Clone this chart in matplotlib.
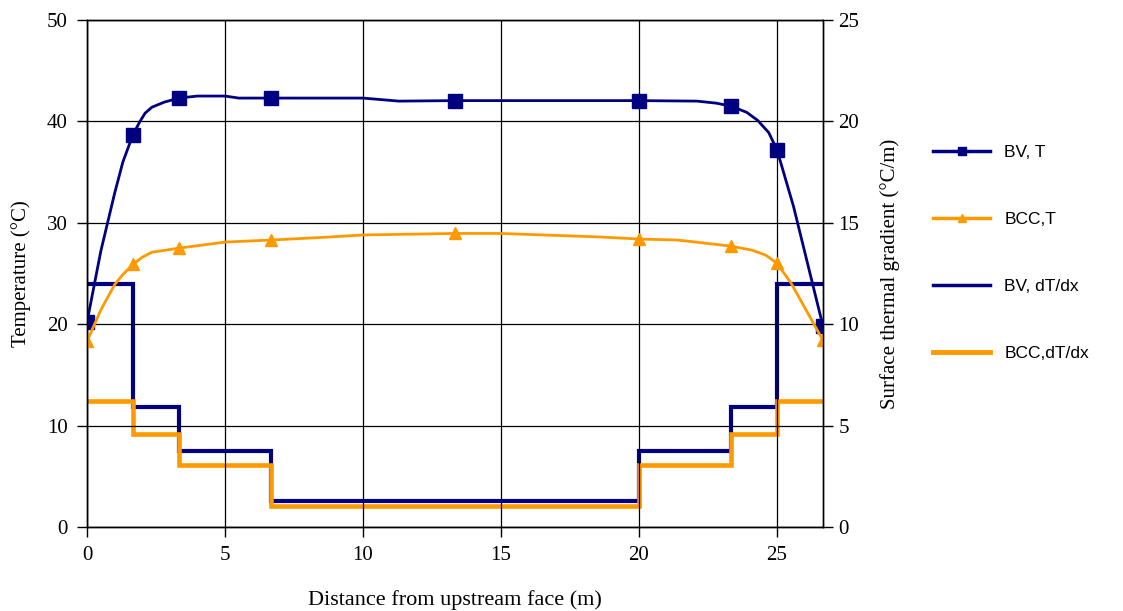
import numpy as np
import matplotlib.pyplot as plt

# temperature curves (left axis), dense points
bv_x = [0, 0.5, 1.0, 1.3, 1.667, 1.9, 2.1, 2.35, 2.8, 3.333, 4.0, 5.0, 5.5, 6.667, 8.0, 10.0,
        11.3, 13.333, 16.0, 20.0, 22.1, 22.8, 23.333, 23.9, 24.3, 24.7, 25.0, 25.6, 26.667]
bv_t = [20.2, 27.2, 32.9, 36.0, 38.7, 39.9, 40.8, 41.4, 41.9, 42.3, 42.5, 42.5, 42.3, 42.3,
        42.3, 42.3, 42.0, 42.05, 42.05, 42.05, 42.0, 41.8, 41.5, 40.9, 40.1, 38.9, 37.2,
        31.6, 19.8]
bcc_x = [0, 0.5, 1.0, 1.3, 1.667, 2.0, 2.35, 3.333, 5.0, 6.667, 8.8, 10.0, 13.333, 15.0,
         18.6, 20.0, 21.4, 23.333, 24.1, 24.6, 25.0, 25.5, 26.667]
bcc_t = [18.3, 21.4, 23.9, 24.9, 25.9, 26.6, 27.1, 27.5, 28.1, 28.3, 28.6, 28.8, 28.95,
         28.95, 28.6, 28.4, 28.3, 27.7, 27.3, 26.8, 26.0, 24.1, 18.4]

# marker positions
mark_x = [0, 1.667, 3.333, 6.667, 13.333, 20.0, 23.333, 25.0, 26.667]
bv_mark = [20.2, 38.7, 42.3, 42.3, 42.05, 42.05, 41.5, 37.2, 19.8]
bcc_mark = [18.3, 25.9, 27.5, 28.3, 28.95, 28.4, 27.7, 26.0, 18.4]

# gradients (right axis), piecewise constant
edges = [0, 1.667, 3.333, 6.667, 20.0, 23.333, 25.0, 26.667]
bv_grad = [12.0, 5.9, 3.75, 1.3, 3.75, 5.9, 12.0]
bcc_grad = [6.2, 4.6, 3.05, 1.05, 3.05, 4.6, 6.2]

navy = '#000080'
orange = '#FF9900'
serif = 'Liberation Serif'

fig = plt.figure(figsize=(11.23, 6.11), dpi=100)
ax = fig.add_axes([87 / 1123, 1 - 527 / 611, (823 - 87) / 1123, (527 - 20) / 611])
ax2 = ax.twinx()
ax.set_zorder(2)
ax2.set_zorder(1)
ax.patch.set_visible(False)

# grid lives on ax2 so the step lines sit above it
ax2.xaxis.set_visible(True)
ax2.tick_params(axis='x', bottom=False, top=False, labelbottom=False, labeltop=False)
ax2.grid(True, color='black', linewidth=0.9)

ax2.stairs(bv_grad, edges, baseline=None, color=navy, linewidth=3.0)
ax2.stairs(bcc_grad, edges, baseline=None, color=orange, linewidth=3.3)

ax.plot(bv_x, bv_t, color=navy, linewidth=2.0)
ax.plot(mark_x, bv_mark, 's', color=navy, markersize=10)
ax.plot(bcc_x, bcc_t, color=orange, linewidth=2.0)
ax.plot(mark_x, bcc_mark, '^', color=orange, markersize=8.5)

ax.set_xlim(0, 26.667)
ax.set_ylim(0, 50)
ax2.set_ylim(0, 25)
ax.set_xticks([0, 5, 10, 15, 20, 25])
ax.set_yticks([0, 10, 20, 30, 40, 50])
ax2.set_yticks([0, 5, 10, 15, 20, 25])

for a in (ax, ax2):
    for s in a.spines.values():
        s.set_linewidth(1.0)
ax.tick_params(axis='both', direction='out', length=7, width=1.0, labelsize=15, pad=7)
ax2.tick_params(axis='y', direction='out', length=7, width=1.0, labelsize=15, pad=4)
for lab in ax.get_xticklabels() + ax.get_yticklabels() + ax2.get_yticklabels():
    lab.set_fontfamily(serif)

ax.set_xlabel('Distance from upstream face (m)', fontfamily=serif, fontsize=16, labelpad=18)
ax.set_ylabel('Temperature (°C)', fontfamily=serif, fontsize=15, labelpad=11)
ax2.set_ylabel('Surface thermal gradient (°C/m)', fontfamily=serif, fontsize=15, labelpad=15)

h1, = plt.plot([], [], '-s', color=navy, linewidth=2.5, markersize=6)
h2, = plt.plot([], [], '-^', color=orange, linewidth=2.5, markersize=6)
h3, = plt.plot([], [], '-', color=navy, linewidth=2.5)
h4, = plt.plot([], [], '-', color=orange, linewidth=3.5)
fig.legend([h1, h2, h3, h4], ['BV, T', 'BCC,T', 'BV, dT/dx', 'BCC,dT/dx'],
           loc='center left', bbox_to_anchor=(933 / 1123, 1 - 253 / 611),
           frameon=False, borderpad=0, borderaxespad=0, handlelength=3.3,
           handletextpad=0.8, labelspacing=3.0,
           prop={'family': 'Liberation Sans', 'size': 12.5})

fig.savefig('out.png', dpi=100)
